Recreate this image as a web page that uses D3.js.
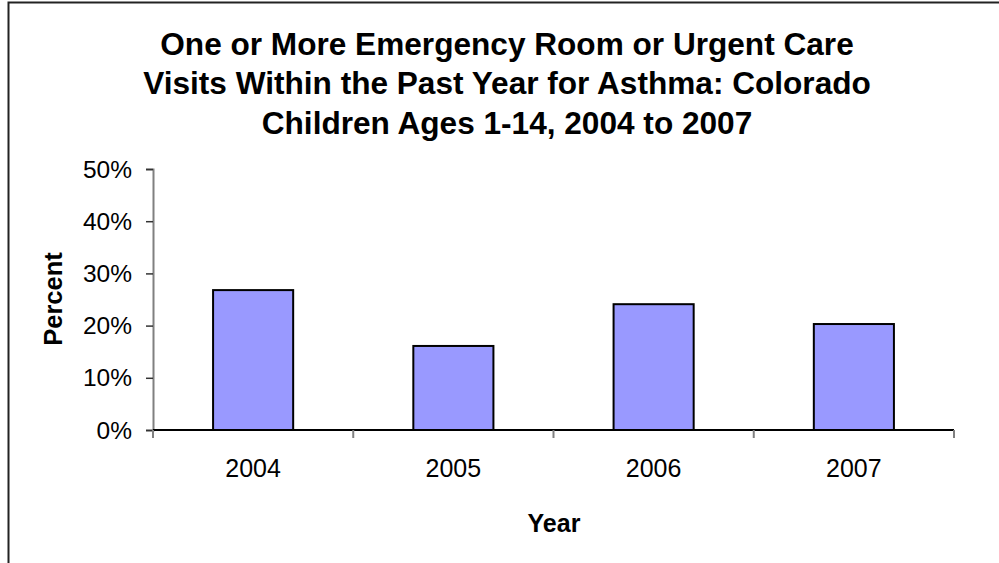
<!DOCTYPE html>
<html>
<head>
<meta charset="utf-8">
<script src="https://cdn.jsdelivr.net/npm/d3@7"></script>
<style>
  html, body { margin: 0; padding: 0; background: #fff; }
  svg { display: block; }
  text { font-family: "Liberation Sans", Arial, sans-serif; fill: #000; }
</style>
</head>
<body>
<svg id="chart" width="999" height="563"></svg>
<script>
// Share of Colorado children (ages 1-14) with an ER / urgent care visit for asthma
const years = ["2004", "2005", "2006", "2007"];
const percents = [26.8, 16.1, 24.1, 20.3];
const yTicks = [0, 10, 20, 30, 40, 50];
const titleLines = [
  "One or More Emergency Room or Urgent Care",
  "Visits Within the Past Year for Asthma: Colorado",
  "Children Ages 1-14, 2004 to 2007"
];

const svg = d3.select("#chart");
const W = 999, H = 563;
const plot = { left: 153, right: 954, top: 169, bottom: 430 };

// Outer frame (left and top edges)
svg.append("path")
  .attr("d", `M8.5,${H} V2.5 H${W}`)
  .attr("fill", "none")
  .attr("stroke", "#222")
  .attr("stroke-width", 2);

// Title
svg.append("g").selectAll("text")
  .data(titleLines)
  .join("text")
  .attr("x", 507)
  .attr("y", (d, i) => 54.5 + i * 39.5)
  .attr("text-anchor", "middle")
  .attr("font-size", 31.6)
  .attr("font-weight", "bold")
  .text(d => d);

const x = d3.scaleBand()
  .domain(years)
  .range([plot.left, plot.right])
  .paddingInner(0.6)
  .paddingOuter(0.3);

const y = d3.scaleLinear()
  .domain([0, 50])
  .range([plot.bottom, plot.top]);

// Bars
svg.append("g").selectAll("rect")
  .data(years.map((yr, i) => ({ yr, v: percents[i] })))
  .join("rect")
  .attr("x", d => x(d.yr))
  .attr("y", d => y(d.v))
  .attr("width", x.bandwidth())
  .attr("height", d => y(0) - y(d.v))
  .attr("fill", "#9999FF")
  .attr("stroke", "#000")
  .attr("stroke-width", 2);

// Y axis
const yAxis = svg.append("g")
  .attr("transform", `translate(${plot.left},0)`)
  .call(d3.axisLeft(y).tickValues(yTicks).tickFormat(d => d + "%").tickSize(7).tickPadding(14));
yAxis.select(".domain").attr("stroke", "#808080").attr("stroke-width", 2);
yAxis.selectAll(".tick line").attr("stroke", "#333").attr("stroke-width", 1.5);
yAxis.selectAll(".tick text")
  .attr("font-size", 24.5)
  .attr("dy", "0.33em");

// X axis: boundary ticks between categories
const boundaries = d3.range(years.length + 1).map(i => plot.left + i * (plot.right - plot.left) / years.length);
const xg = svg.append("g");
xg.append("line")
  .attr("x1", plot.left).attr("x2", plot.right)
  .attr("y1", plot.bottom).attr("y2", plot.bottom)
  .attr("stroke", "#000").attr("stroke-width", 2);
xg.selectAll("line.tk")
  .data(boundaries)
  .join("line")
  .attr("class", "tk")
  .attr("x1", d => d).attr("x2", d => d)
  .attr("y1", plot.bottom).attr("y2", plot.bottom + 8)
  .attr("stroke", "#808080").attr("stroke-width", 2);
xg.selectAll("text")
  .data(years)
  .join("text")
  .attr("x", d => x(d) + x.bandwidth() / 2)
  .attr("y", 477)
  .attr("text-anchor", "middle")
  .attr("font-size", 25)
  .text(d => d);

// Axis titles
svg.append("text")
  .attr("x", 554).attr("y", 532)
  .attr("text-anchor", "middle")
  .attr("font-size", 25)
  .attr("font-weight", "bold")
  .text("Year");

svg.append("text")
  .attr("transform", "translate(62,299) rotate(-90)")
  .attr("text-anchor", "middle")
  .attr("font-size", 25.5)
  .attr("font-weight", "bold")
  .text("Percent");
</script>
</body>
</html>
